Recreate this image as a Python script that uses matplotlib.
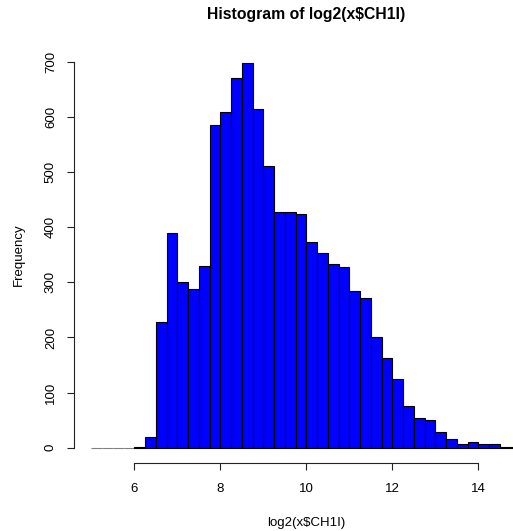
import matplotlib
matplotlib.use("Agg")
import matplotlib.pyplot as plt
import numpy as np

plt.rcParams['font.family'] = ['Liberation Sans', 'DejaVu Sans']

# Histogram data (bins of width 0.25 from 5.0 to 15.0)
bin_start = 5.0
bin_width = 0.25
counts = [0, 0, 0, 0,
          1, 20, 228, 390, 300, 288, 330, 586,
          610, 671, 699, 615, 511, 428, 428, 425,
          373, 354, 334, 328, 285, 272, 200, 163,
          124, 76, 54, 51, 28, 16, 6, 11,
          7, 7, 1, 1]
x_ticks = [6, 8, 10, 12, 14]
y_ticks = [0, 100, 200, 300, 400, 500, 600, 700]
title = "Histogram of log2(x$CH1I)"
xlabel = "log2(x$CH1I)"
ylabel = "Frequency"

W, H = 513, 531
fig = plt.figure(figsize=(W / 100, H / 100), dpi=100)
ax = fig.add_axes([74.1 / W, (H - 463.1) / H, (538.5 - 74.1) / W, (463.1 - 46.6) / H])

edges = bin_start + bin_width * np.arange(len(counts))
counts_arr = np.array(counts)
ecols = ['#808080' if c == 0 else 'black' for c in counts]
ax.bar(edges, counts_arr, width=bin_width, align='edge', color='#0000FF',
       edgecolor=ecols, linewidth=0.8)

ax.set_xlim(4.6, 15.4)
ax.set_ylim(-28, 728)

for s in ['top', 'right']:
    ax.spines[s].set_visible(False)
ax.spines['left'].set_bounds(0, 700)
ax.spines['bottom'].set_bounds(6, 14)
for s in ['left', 'bottom']:
    ax.spines[s].set_linewidth(0.8)
    ax.spines[s].set_color('#222222')

ax.set_xticks(x_ticks)
ax.set_xticklabels([str(v) for v in x_ticks])
ax.set_yticks(y_ticks)
ax.set_yticklabels([str(v) for v in y_ticks], rotation=90, va='center')
ax.tick_params(axis='both', direction='out', length=5.2, width=0.8,
               labelsize=9.5, color='#222222')
ax.tick_params(axis='x', pad=9.2)
ax.tick_params(axis='y', pad=7.2)

cx = 306.3 / W
fig.text(cx, (H - 19.3) / H, title, ha='center', va='baseline',
         fontsize=11.3, fontweight='bold', parse_math=False)
fig.text(cx, (H - 525.7) / H, xlabel, ha='center', va='baseline',
         fontsize=9.5, parse_math=False)
fig.text(18.5 / W, (H - 254.9) / H, ylabel, ha='center', va='center',
         rotation=90, fontsize=9.5)

fig.savefig("out.png", dpi=100)
